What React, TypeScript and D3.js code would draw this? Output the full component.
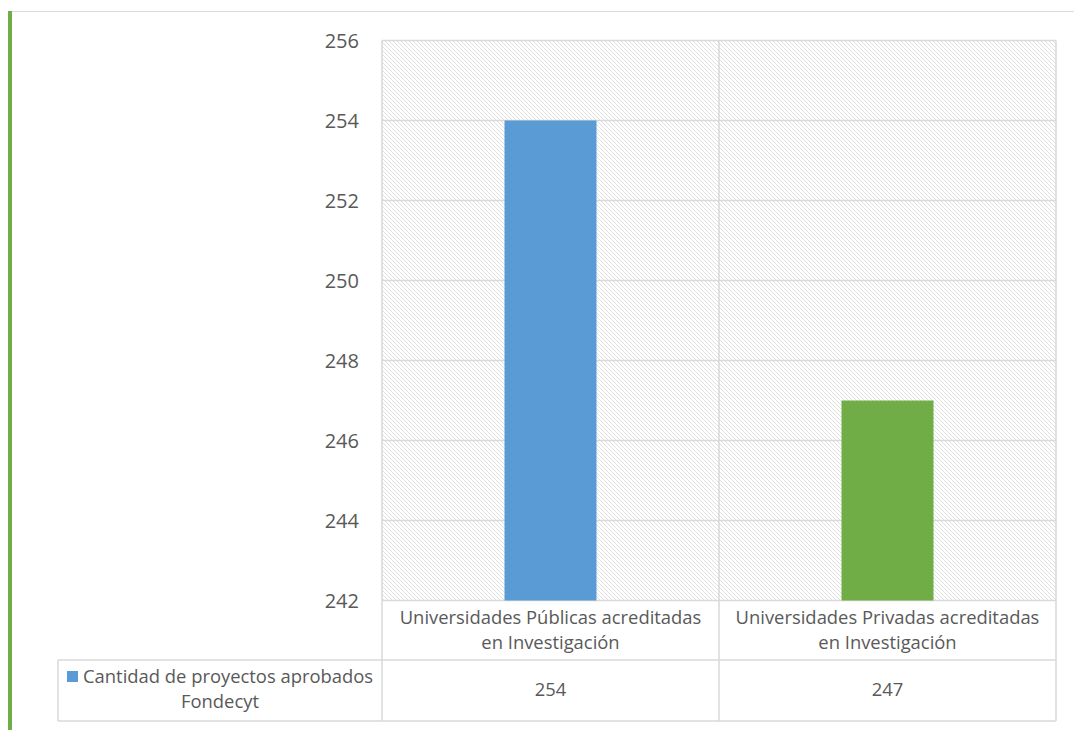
import * as d3 from 'd3';

const categories = [
  ['Universidades Públicas acreditadas', 'en Investigación'],
  ['Universidades Privadas acreditadas', 'en Investigación'],
];
const values = [254, 247];
const barColors = ['#5B9BD5', '#70AD47'];
const yTicks = [242, 244, 246, 248, 250, 252, 254, 256];
const seriesName = ['Cantidad de proyectos aprobados', 'Fondecyt'];

const W = 1074;
const H = 730;
const plot = { left: 382, right: 1056, top: 40.5, bottom: 600.5 };
const labelRowBottom = 660;
const tableBottom = 721;
const legendLeft = 58;
const text = '#595959';
const grid = '#d9d9d9';
const font = '"Open Sans", sans-serif';

export default function App() {
  const x = d3.scaleBand<number>().domain(d3.range(categories.length)).range([plot.left, plot.right]);
  const y = d3.scaleLinear().domain([242, 256]).range([plot.bottom, plot.top]);
  const barW = x.bandwidth() * 0.273;

  return (
    <svg width={W} height={H} style={{ position: 'absolute', left: 0, top: 0 }} fontFamily={font}>
      <defs>
        <pattern id="hatch" width="4" height="4" patternUnits="userSpaceOnUse">
          <rect width="4" height="4" fill="#fff" />
          <path d="M-1,-1 L5,5 M-1,3 L1,5 M3,-1 L5,1" stroke="#dadada" strokeWidth="0.85" />
        </pattern>
      </defs>
      <rect width={W} height={H} fill="#fff" />

      {/* page frame */}
      <rect x={8} y={11} width={4} height={H - 11} fill="#70AD47" />
      <line x1={12} x2={W} y1={11.5} y2={11.5} stroke={grid} strokeWidth={1} />

      {/* plot area */}
      <rect x={plot.left} y={plot.top} width={plot.right - plot.left} height={plot.bottom - plot.top} fill="url(#hatch)" />

      {yTicks.map((t) => (
        <g key={t}>
          <line x1={plot.left} x2={plot.right} y1={y(t)} y2={y(t)} stroke={grid} strokeWidth={1.5} />
          <text x={359} y={y(t)} dy="0.35em" textAnchor="end" fontSize={20} fill={text}>{t}</text>
        </g>
      ))}

      {values.map((v, i) => (
        <rect
          key={i}
          x={(x(i) ?? 0) + x.bandwidth() / 2 - barW / 2}
          y={y(v)}
          width={barW}
          height={y(242) - y(v)}
          fill={barColors[i]}
        />
      ))}

      {/* table lines */}
      {[plot.left, ...categories.map((_, i) => (x(i) ?? 0) + x.bandwidth())].map((xx, i) => (
        <line key={i} x1={xx} x2={xx} y1={plot.top} y2={tableBottom} stroke={grid} strokeWidth={1.5} />
      ))}
      <line x1={legendLeft} x2={legendLeft} y1={labelRowBottom} y2={tableBottom} stroke={grid} strokeWidth={1.5} />
      <line x1={legendLeft} x2={plot.right} y1={labelRowBottom} y2={labelRowBottom} stroke={grid} strokeWidth={1.5} />
      <line x1={legendLeft} x2={plot.right} y1={tableBottom} y2={tableBottom} stroke={grid} strokeWidth={1.5} />

      {categories.map((lines, i) => (
        <g key={i}>
          {lines.map((l, j) => (
            <text key={j} x={(x(i) ?? 0) + x.bandwidth() / 2} y={618 + j * 25} dy="0.35em" textAnchor="middle" fontSize={18.4} fill={text}>{l}</text>
          ))}
          <text x={(x(i) ?? 0) + x.bandwidth() / 2} y={690} dy="0.35em" textAnchor="middle" fontSize={18.4} fill={text}>{values[i]}</text>
        </g>
      ))}

      {/* legend cell */}
      <rect x={67} y={671} width={11} height={11} fill={barColors[0]} />
      <text x={83} y={677} dy="0.35em" fontSize={18.4} fill={text}>{seriesName[0]}</text>
      <text x={(legendLeft + plot.left) / 2} y={702} dy="0.35em" textAnchor="middle" fontSize={18.4} fill={text}>{seriesName[1]}</text>
    </svg>
  );
}
